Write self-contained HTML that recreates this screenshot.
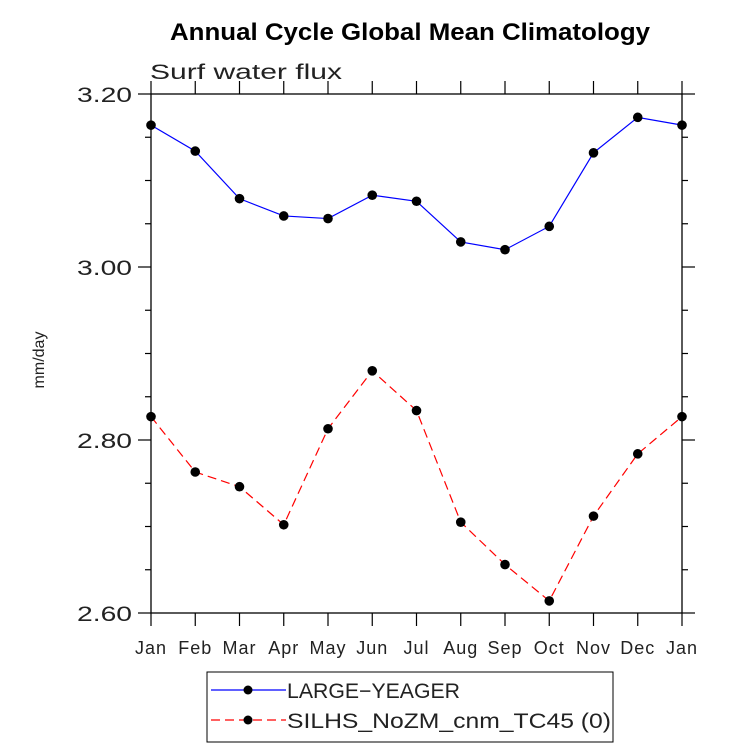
<!DOCTYPE html>
<html><head><meta charset="utf-8"><style>
body{margin:0;background:#fff;width:733px;height:748px;overflow:hidden}
text{font-family:"Liberation Sans",sans-serif}
</style></head><body>
<svg id="chart" width="733" height="748" viewBox="0 0 733 748" xmlns="http://www.w3.org/2000/svg">
<text x="170" y="40" textLength="480" lengthAdjust="spacingAndGlyphs" font-size="24" font-weight="bold">Annual Cycle Global Mean Climatology</text>
<text x="150" y="79" textLength="192" lengthAdjust="spacingAndGlyphs" font-size="21" fill="#222">Surf water flux</text>
<text transform="translate(44,360) rotate(-90)" text-anchor="middle" font-size="16" fill="#222">mm/day</text>
<g id="axes"></g>
<g id="series"></g>
<g>
<rect x="207" y="672" width="406" height="70" fill="none" stroke="#000" stroke-width="1"/>
<line x1="211" y1="690" x2="286" y2="690" stroke="#00f" stroke-width="1.2"/>
<circle cx="248" cy="690" r="4.5"/>
<text x="287" y="698" textLength="173" lengthAdjust="spacingAndGlyphs" font-size="21" fill="#222">LARGE−YEAGER</text>
<line x1="211" y1="720" x2="286" y2="720" stroke="#f00" stroke-width="1.2" stroke-dasharray="9,5"/>
<circle cx="248" cy="720" r="4.5"/>
<text x="287" y="728" textLength="324" lengthAdjust="spacingAndGlyphs" font-size="21" fill="#222">SILHS_NoZM_cnm_TC45 (0)</text>
</g>
</svg>
<script>
const months=["Jan","Feb","Mar","Apr","May","Jun","Jul","Aug","Sep","Oct","Nov","Dec","Jan"];
const largeYeager=[3.164,3.134,3.079,3.059,3.056,3.083,3.076,3.029,3.020,3.047,3.132,3.173,3.164];
const silhs=[2.827,2.763,2.746,2.702,2.813,2.880,2.834,2.705,2.656,2.614,2.712,2.784,2.827];
const yTicks=[2.60,2.80,3.00,3.20];
const yTickLabels=["2.60","2.80","3.00","3.20"];
const yMin=2.60,yMax=3.20,L=151,R=682,T=94,B=613;
const ns="http://www.w3.org/2000/svg";
const xs=i=>L+(R-L)*i/(months.length-1);
const ys=v=>B-(v-yMin)/(yMax-yMin)*(B-T);
function mk(tag,attrs,parent){const e=document.createElementNS(ns,tag);for(const k in attrs)e.setAttribute(k,attrs[k]);parent.appendChild(e);return e;}
const ax=document.getElementById('axes');
const frame=mk('rect',{x:L,y:T,width:R-L,height:B-T,fill:'none',stroke:'#000','stroke-width':1.3},ax);


for(let v=yMin;v<=yMax+1e-9;v+=0.05){
  const major=yTicks.some(t=>Math.abs(t-v)<1e-6);const len=major?13:6;const y=ys(v);
  mk('line',{x1:L-len,y1:y,x2:L,y2:y,stroke:'#000','stroke-width':1.2},ax);
  mk('line',{x1:R,y1:y,x2:R+len,y2:y,stroke:'#000','stroke-width':1.2},ax);
}
yTicks.forEach((t,i)=>{const tx=mk('text',{x:L-19,y:ys(t)+8,'text-anchor':'end','font-size':21,textLength:55,lengthAdjust:'spacingAndGlyphs',fill:'#222'},ax);tx.textContent=yTickLabels[i];

});
months.forEach((m,i)=>{const x=xs(i);
  mk('line',{x1:x,y1:B,x2:x,y2:B+13,stroke:'#000','stroke-width':1.2},ax);
  mk('line',{x1:x,y1:T-13,x2:x,y2:T,stroke:'#000','stroke-width':1.2},ax);
  const tx=mk('text',{x:x,y:B+41,'text-anchor':'middle','font-size':18,'letter-spacing':'1',fill:'#222'},ax);tx.textContent=m;
  
  
});
const sg=document.getElementById('series');
function draw(vals,color,dash,name){
  const p=mk('polyline',{points:vals.map((v,i)=>xs(i)+','+ys(v)).join(' '),fill:'none',stroke:color,'stroke-width':1.2,'stroke-dasharray':dash},sg);
  
  
  vals.forEach((v,i)=>{const c=mk('circle',{cx:xs(i),cy:ys(v),r:4.8,fill:'#000'},sg);
    
    });
}
draw(largeYeager,'#00f','none','large-yeager');
draw(silhs,'#f00','9,5','silhs');
</script>
</body></html>
